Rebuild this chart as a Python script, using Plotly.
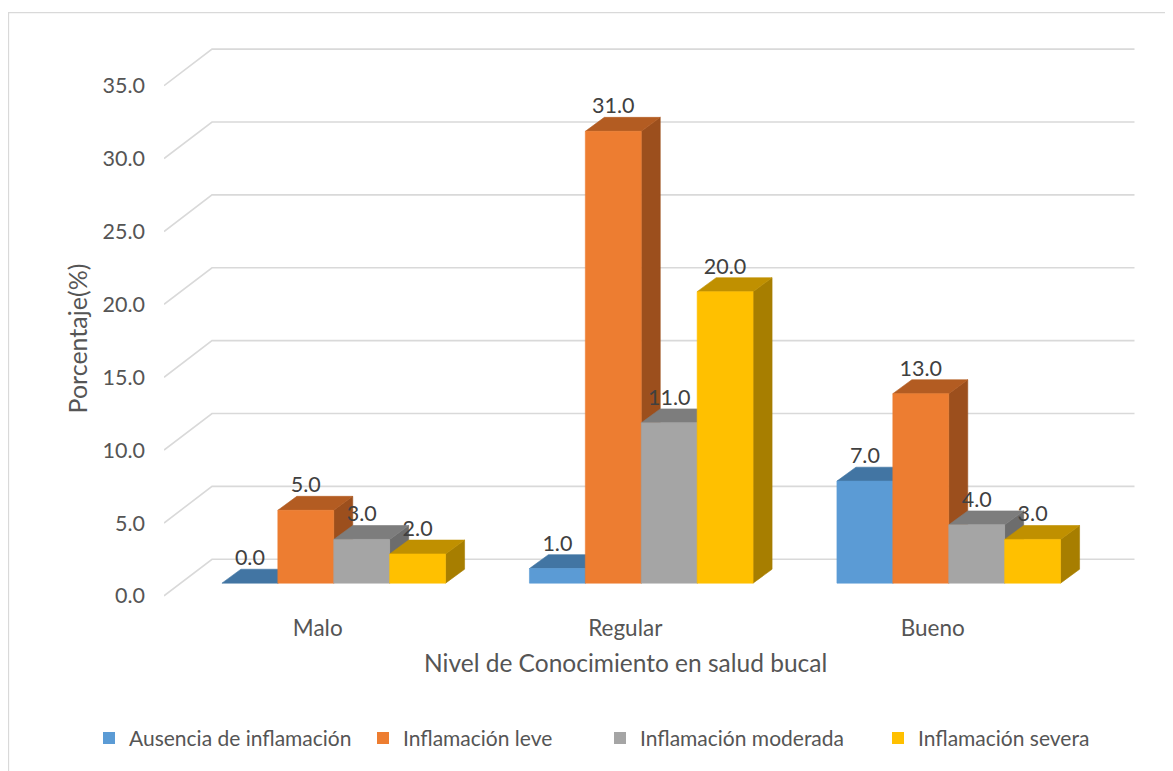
import plotly.graph_objects as go

# data
categories = ["Malo", "Regular", "Bueno"]
series_names = ["Ausencia de inflamación", "Inflamación leve",
                "Inflamación moderada", "Inflamación severa"]
ausencia = [0.0, 1.0, 7.0]
leve = [5.0, 31.0, 13.0]
moderada = [3.0, 11.0, 4.0]
severa = [2.0, 20.0, 3.0]
y_ticks = [0, 5, 10, 15, 20, 25, 30, 35]

series_values = [ausencia, leve, moderada, severa]

# front / top / side colours of each series
front_colors = ["#5B9BD5", "#ED7D31", "#A5A5A5", "#FFC000"]
top_colors = ["#4275A3", "#B35C22", "#7D7D7D", "#C09000"]
side_colors = ["#3A6791", "#9C4F1D", "#6D6D6D", "#A77E00"]

FONT = "Lato"
TEXT_COLOR = "#555555"
LABEL_COLOR = "#404040"
GRID_COLOR = "#D9D9D9"

# the page body adds an 8px margin, so the figure is drawn 8px smaller
# and all page positions below are shifted back by that amount
PAGE_OFF = 8
W, H = 1173 - PAGE_OFF, 771 - PAGE_OFF
PLOT_L, PLOT_R, PLOT_T, PLOT_B = 164, 1148, 42, 612   # plot area on the page
M_L, M_T = PLOT_L - PAGE_OFF, PLOT_T - PAGE_OFF
M_R, M_B = W - (PLOT_R - PAGE_OFF), H - (PLOT_B - PAGE_OFF)
X_RANGE = [0, 3.2]
Y_RANGE = [-0.9, 38.0]
PX_X = (PLOT_R - PLOT_L) / (X_RANGE[1] - X_RANGE[0])
PX_Y = (PLOT_B - PLOT_T) / (Y_RANGE[1] - Y_RANGE[0])

# depth vectors converted to data units
WALL_DX, WALL_DY = 48 / PX_X, 36.8 / PX_Y      # floor / back wall depth
OFF_DX, OFF_DY = 16 / PX_X, 12.8 / PX_Y        # bars front face offset
BAR_DX, BAR_DY = 19 / PX_X, 14.0 / PX_Y        # bar depth
LABEL_DY = 9.5 / PX_Y

n_series = len(series_values)
bar_w = 1 / (n_series + 1.5)          # gap width 150%
gap = 0.75 * bar_w


def px_to_paper_x(px):
    return (px - PLOT_L) / (PLOT_R - PLOT_L)


def px_to_paper_y(py):
    return (PLOT_B - py) / (PLOT_B - PLOT_T)


fig = go.Figure()

# gridlines: front edge -> back wall -> across
for t in y_ticks:
    fig.add_trace(go.Scatter(
        x=[0, WALL_DX, len(categories) + WALL_DX],
        y=[t, t + WALL_DY, t + WALL_DY],
        mode="lines",
        line=dict(color=GRID_COLOR, width=1.6),
        hoverinfo="skip",
        showlegend=False
    ))


def add_face(xs, ys, color):
    fig.add_trace(go.Scatter(
        x=xs + [xs[0]], y=ys + [ys[0]],
        mode="lines",
        fill="toself",
        fillcolor=color,
        line=dict(color=color, width=0.6),
        hoverinfo="skip",
        showlegend=False
    ))


label_x, label_y, label_text = [], [], []
for i, cat in enumerate(categories):
    for j, vals in enumerate(series_values):
        v = vals[i]
        x0 = i + gap + j * bar_w + OFF_DX
        x1 = x0 + bar_w
        b = OFF_DY
        top = v + OFF_DY

        # side face
        add_face([x1, x1 + BAR_DX, x1 + BAR_DX, x1],
                 [b, b + BAR_DY, top + BAR_DY, top], side_colors[j])
        # top face
        add_face([x0, x1, x1 + BAR_DX, x0 + BAR_DX],
                 [top, top, top + BAR_DY, top + BAR_DY], top_colors[j])
        # front face
        if v > 0:
            add_face([x0, x1, x1, x0], [b, b, top, top], front_colors[j])

        label_x.append((x0 + x1) / 2)
        label_y.append(top + BAR_DY + LABEL_DY)
        label_text.append(f"{v:.1f}")

# data labels
fig.add_trace(go.Scatter(
    x=label_x, y=label_y, text=label_text,
    mode="text",
    textposition="middle center",
    textfont=dict(family=FONT, size=21.5, color=LABEL_COLOR),
    hoverinfo="skip",
    showlegend=False
))

# legend entries, one legend each so they sit where the original has them
legend_ids = ["legend", "legend2", "legend3", "legend4"]
legend_left = [106, 380, 617, 895]   # page x of each square
for name, color, lid in zip(series_names, front_colors, legend_ids):
    fig.add_trace(go.Scatter(
        x=[None], y=[None],
        mode="markers",
        marker=dict(symbol="square", size=12, color=color),
        name=name,
        legend=lid
    ))

legends = {}
for lid, sx in zip(legend_ids, legend_left):
    legends[lid] = dict(
        orientation="h",
        x=px_to_paper_x(sx - 17), xanchor="left",
        y=px_to_paper_y(742), yanchor="middle",
        font=dict(family=FONT, size=21, color=TEXT_COLOR),
        bgcolor="rgba(0,0,0,0)",
        itemclick=False
    )

fig.update_layout(
    width=W, height=H,
    autosize=False,
    margin=dict(l=M_L, r=M_R, t=M_T, b=M_B),
    paper_bgcolor="white",
    plot_bgcolor="white",
    font=dict(family=FONT, size=21, color=TEXT_COLOR),
    showlegend=True,
    xaxis=dict(
        range=X_RANGE,
        tickvals=[i + 0.5 for i in range(len(categories))],
        ticktext=categories,
        showgrid=False, zeroline=False, showline=False,
        ticks="",
        ticklabelstandoff=3,
        tickfont=dict(family=FONT, size=22.5, color=TEXT_COLOR)
    ),
    yaxis=dict(
        range=Y_RANGE,
        tickvals=y_ticks,
        ticktext=[f"{t:.1f}" for t in y_ticks],
        showgrid=False, zeroline=False, showline=False,
        ticks="",
        ticklabelstandoff=18,
        tickfont=dict(family=FONT, size=21.5, color=TEXT_COLOR)
    ),
    annotations=[
        dict(text="Nivel de Conocimiento en salud bucal",
             xref="x", x=1.5, yref="paper", y=px_to_paper_y(666),
             xanchor="center", yanchor="middle", showarrow=False,
             font=dict(family=FONT, size=24.5, color=TEXT_COLOR)),
        dict(text="Porcentaje(%)",
             xref="paper", x=px_to_paper_x(77), yref="paper", y=px_to_paper_y(340),
             xanchor="center", yanchor="middle", textangle=-90, showarrow=False,
             font=dict(family=FONT, size=25, color=TEXT_COLOR)),
    ],
    shapes=[
        # chart area border (only top and left visible in the frame)
        dict(type="rect", xref="paper", yref="paper",
             x0=px_to_paper_x(8.5), x1=px_to_paper_x(1200),
             y0=px_to_paper_y(800), y1=px_to_paper_y(12.5),
             line=dict(color=GRID_COLOR, width=1.3), layer="below"),
    ],
    **legends
)

fig.write_html("out.html")
